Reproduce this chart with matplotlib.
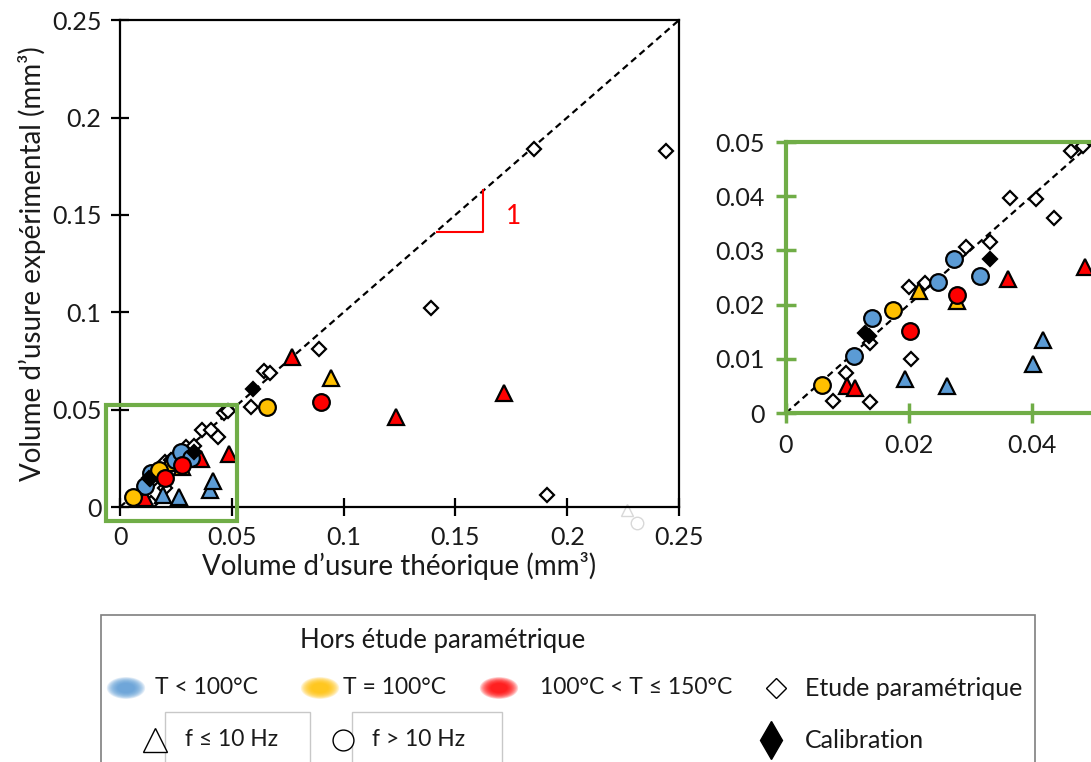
import matplotlib
matplotlib.use("Agg")
import matplotlib.pyplot as plt
from matplotlib.patches import Rectangle, Ellipse
from matplotlib.lines import Line2D

plt.rcParams["font.family"] = ["Lato", "DejaVu Sans"]

# ---- data (theoretical volume, experimental volume) in mm^3 ----
param_x = [0.0077, 0.0137, 0.0098, 0.0137, 0.0203, 0.0201, 0.0226, 0.0293, 0.0332,
           0.0365, 0.0408, 0.0436, 0.0464, 0.0483, 0.0586, 0.0644, 0.0670, 0.0890,
           0.1390, 0.1850, 0.2440, 0.1910]
param_y = [0.0022, 0.0020, 0.0073, 0.0129, 0.0100, 0.0233, 0.0240, 0.0307, 0.0315,
           0.0397, 0.0394, 0.0360, 0.0483, 0.0493, 0.0513, 0.0700, 0.0690, 0.0810,
           0.1020, 0.1840, 0.1830, 0.0060]

calib_x = [0.0128, 0.0136, 0.0332, 0.0595]
calib_y = [0.0147, 0.0143, 0.0284, 0.0606]

blue_circ_x = [0.0111, 0.0140, 0.0247, 0.0274, 0.0316]
blue_circ_y = [0.0106, 0.0175, 0.0242, 0.0284, 0.0253]
yel_circ_x = [0.0058, 0.0175, 0.0657]
yel_circ_y = [0.0052, 0.0190, 0.0513]
red_circ_x = [0.0202, 0.0279, 0.0899]
red_circ_y = [0.0151, 0.0218, 0.0540]

blue_tri_x = [0.0194, 0.0262, 0.0402, 0.0418]
blue_tri_y = [0.0062, 0.0050, 0.0090, 0.0135]
yel_tri_x = [0.0217, 0.0278, 0.0944]
yel_tri_y = [0.0226, 0.0206, 0.0660]
red_tri_x = [0.0099, 0.0113, 0.0362, 0.0487, 0.0769, 0.1234, 0.1717]
red_tri_y = [0.0049, 0.0047, 0.0247, 0.0270, 0.0770, 0.0460, 0.0585]

main_ticks = [0, 0.05, 0.1, 0.15, 0.2, 0.25]
main_labels = ["0", "0.05", "0.1", "0.15", "0.2", "0.25"]
zoom_xticks = [0, 0.02, 0.04]
zoom_xlabels = ["0", "0.02", "0.04"]
zoom_yticks = [0, 0.01, 0.02, 0.03, 0.04, 0.05]
zoom_ylabels = ["0", "0.01", "0.02", "0.03", "0.04", "0.05"]

BLUE, YEL, RED = "#5B9BD5", "#FFC000", "#FF0000"
GREEN = "#70AD47"
TXT = "#1a1a1a"


def draw_points(ax):
    ax.plot([0, 0.25], [0, 0.25], ls=(0, (3, 2)), color="black", lw=1.6, zorder=1)
    ax.plot(param_x, param_y, "D", ms=7, mfc="white", mec="black", mew=1.6, ls="none", zorder=2)
    for xs, ys, c in [(blue_tri_x, blue_tri_y, BLUE), (yel_tri_x, yel_tri_y, YEL),
                      (red_tri_x, red_tri_y, RED)]:
        ax.plot(xs, ys, "^", ms=12, mfc=c, mec="black", mew=1.6, ls="none", zorder=3)
    for xs, ys, c in [(blue_circ_x, blue_circ_y, BLUE), (yel_circ_x, yel_circ_y, YEL),
                      (red_circ_x, red_circ_y, RED)]:
        ax.plot(xs, ys, "o", ms=12, mfc=c, mec="black", mew=1.6, ls="none", zorder=4)
    ax.plot(calib_x, calib_y, "D", ms=7, mfc="black", mec="black", mew=1.6, ls="none", zorder=5)


fig = plt.figure(figsize=(10.91, 7.62), dpi=100)

# ---- main chart ----
ax = fig.add_axes([0.110, 0.3346, 0.5124, 0.639])
draw_points(ax)
ax.set_xlim(0, 0.25)
ax.set_ylim(0, 0.25)
ax.set_xticks(main_ticks)
ax.set_xticklabels(main_labels)
ax.set_yticks(main_ticks)
ax.set_yticklabels(main_labels)
for s in ax.spines.values():
    s.set_linewidth(1.6)
ax.tick_params(direction="inout", length=13, width=1.6, labelsize=18, colors="black",
               labelcolor=TXT, pad=7)
ax.set_xlabel("Volume d’usure théorique (mm³)", fontsize=20, color=TXT, labelpad=2)
ax.set_ylabel("Volume d’usure expérimental (mm³)", fontsize=20, color=TXT, labelpad=4)

# slope triangle
ax.plot([0.1418, 0.1623, 0.1623], [0.1412, 0.1412, 0.1627], color=RED, lw=1.5, zorder=2)
ax.text(0.176, 0.149, "1", color=RED, fontsize=19, ha="center", va="center")

# zoom frame
ax.add_patch(Rectangle((-0.0063, -0.0072), 0.0586, 0.0596, fill=False,
                       edgecolor=GREEN, lw=3, clip_on=False, zorder=6))

# faint stray marks
ax.plot([0.2267], [-0.0015], "^", ms=9, mfc="none", mec="#d8d8d8", mew=1, clip_on=False)
ax.plot([0.2312], [-0.0082], "o", ms=9, mfc="none", mec="#d8d8d8", mew=1, clip_on=False)

# ---- zoomed chart ----
axz = fig.add_axes([0.7204, 0.458, 0.2814, 0.3556])
draw_points(axz)
axz.set_xlim(0, 0.05)
axz.set_ylim(0, 0.05)
axz.set_xticks(zoom_xticks)
axz.set_xticklabels(zoom_xlabels)
axz.set_yticks(zoom_yticks)
axz.set_yticklabels(zoom_ylabels)
for s in axz.spines.values():
    s.set_linewidth(3)
    s.set_color(GREEN)
axz.tick_params(direction="inout", length=14, width=2.5, colors=GREEN, labelsize=18,
                labelcolor=TXT, pad=8)

# ---- legend panel ----
fig.add_artist(Rectangle((0.0926, -0.02), 0.856, 0.2129, transform=fig.transFigure,
                         fill=False, edgecolor="#7f7f7f", lw=1.2))
for x0, x1 in [(165, 310), (352, 502)]:
    fig.add_artist(Rectangle((x0 / 1091, -0.02), (x1 - x0) / 1091, 1 - 712 / 762 + 0.02,
                             transform=fig.transFigure, fill=False,
                             edgecolor="#c8c8c8", lw=1))

fig.text(0.275, 0.16, "Hors étude paramétrique", fontsize=18.5, color=TXT, va="center")

row2, row3 = 1 - 688 / 762, 1 - 740 / 762
for cx, c in [(126, BLUE), (320, YEL), (499, RED)]:
    for k in range(10):
        sc = 1.3 - k * 0.08
        fig.add_artist(Ellipse((cx / 1091, row2), 0.027 * sc, 0.022 * sc,
                               transform=fig.transFigure, color=c, alpha=0.18, lw=0))

legend_texts = [(155, row2, "T < 100°C", 16.5), (343, row2, "T = 100°C", 16.5),
                (540, row2, "100°C < T ≤ 150°C", 16.5), (805, row2, "Etude paramétrique", 18),
                (185, row3, "f ≤ 10 Hz", 16.5), (372, row3, "f > 10 Hz", 16.5),
                (805, row3, "Calibration", 18)]
for px, py, t, fs in legend_texts:
    fig.text(px / 1091, py, t, fontsize=fs, color=TXT, va="center")

fig.add_artist(Line2D([776 / 1091], [row2], marker="D", ms=10, mfc="white", mec="black",
                      mew=1, transform=fig.transFigure))
fig.add_artist(Line2D([155 / 1091], [row3], marker="^", ms=17, mfc="white", mec="black",
                      mew=1, transform=fig.transFigure))
fig.add_artist(Line2D([343 / 1091], [row3], marker="o", ms=15, mfc="white", mec="black",
                      mew=1, transform=fig.transFigure))
fig.add_artist(Line2D([771 / 1091], [row3], marker="d", ms=19, mfc="black", mec="black",
                      mew=1, transform=fig.transFigure))

fig.savefig("out.png", dpi=100)
